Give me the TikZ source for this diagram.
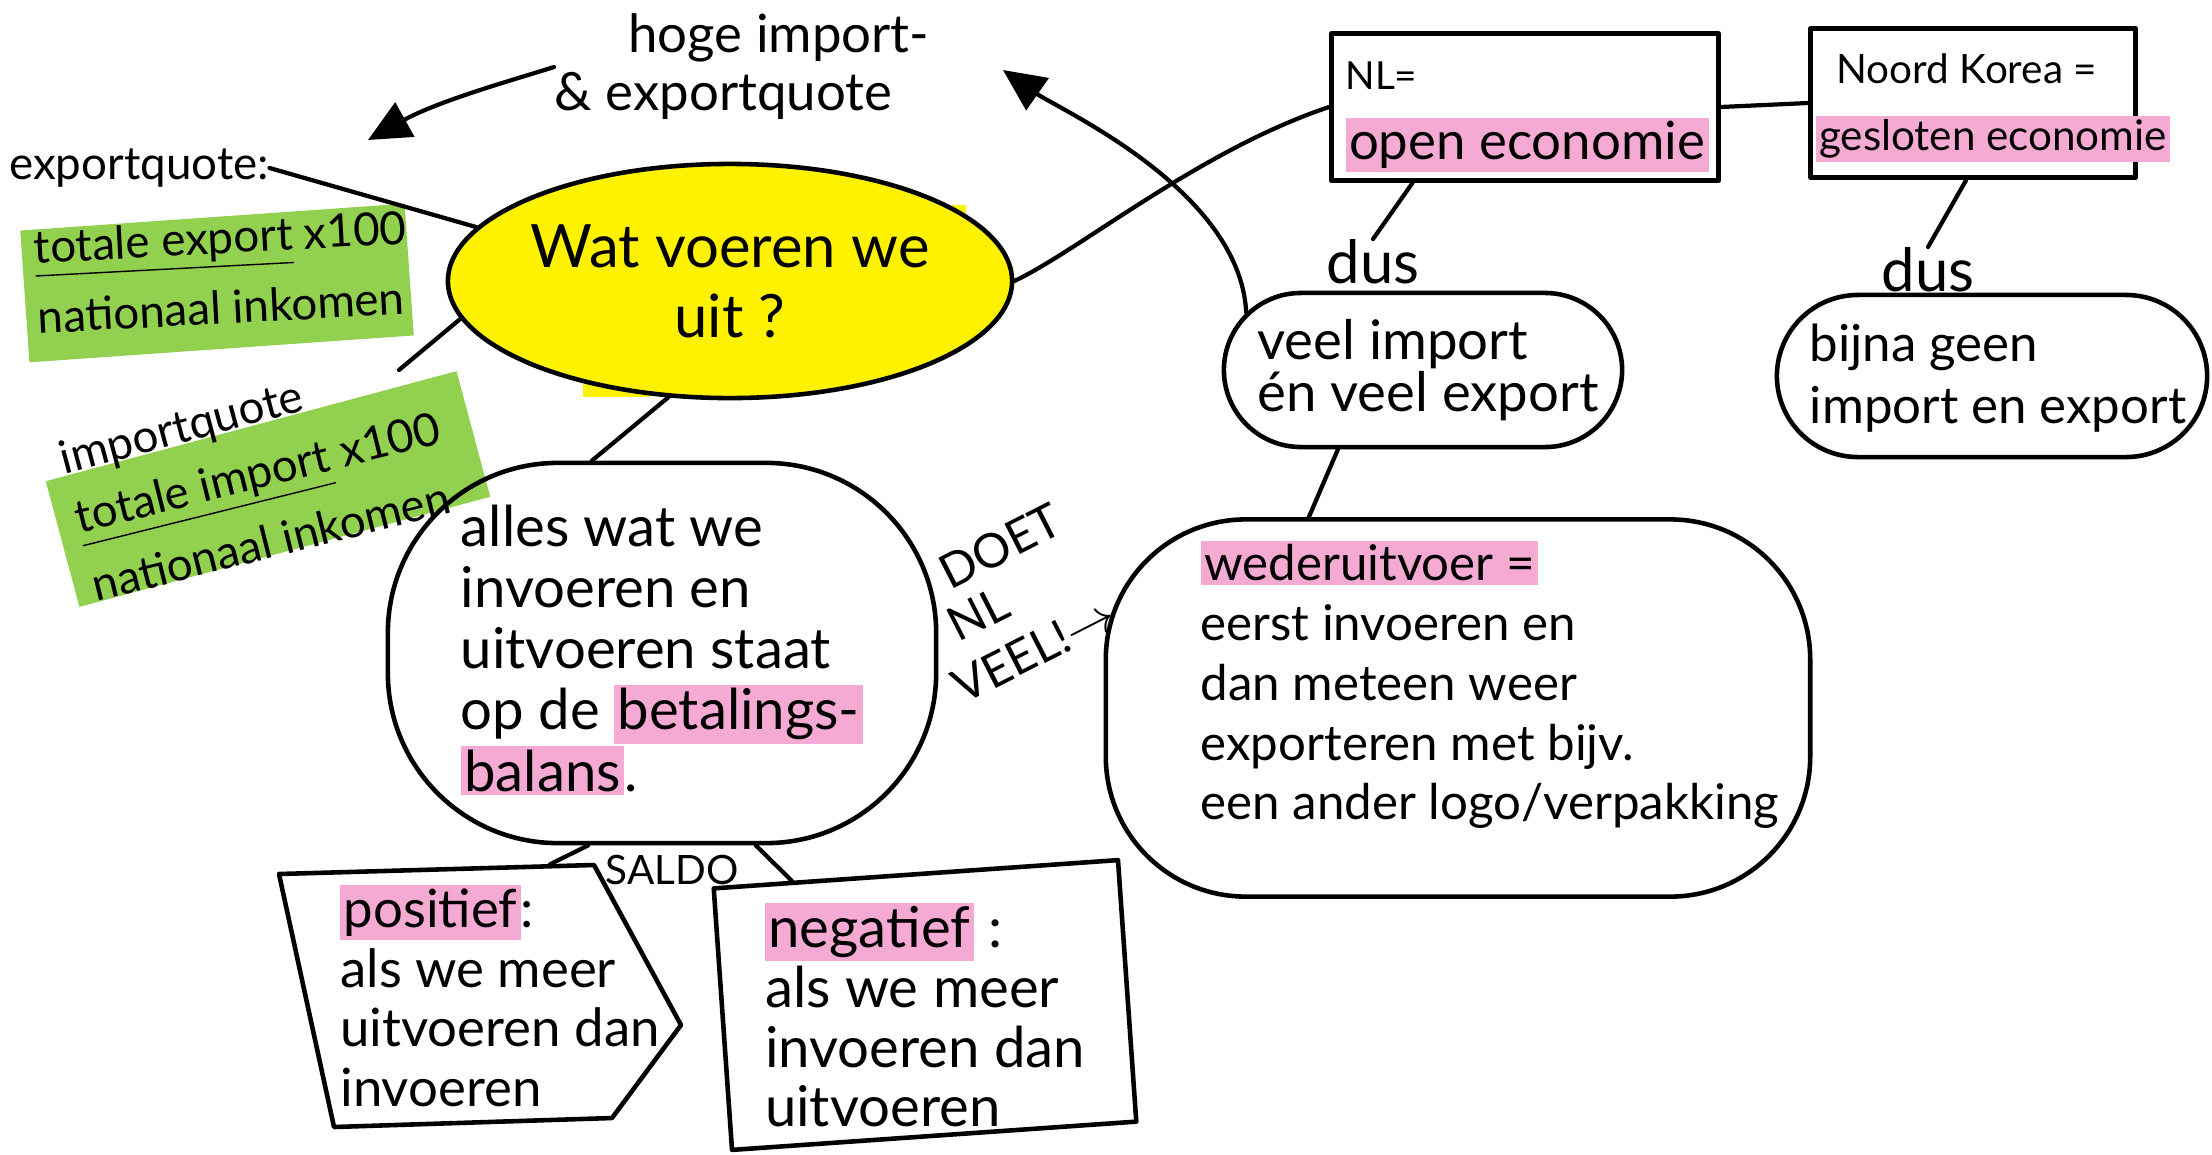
\documentclass[tikz,border=0pt]{standalone}
\usepackage{fontspec}
\setmainfont{Lato}
\usetikzlibrary{shapes.geometric,shapes.misc,arrows.meta}
\definecolor{hlyellow}{RGB}{255,242,0}
\definecolor{hlgreen}{RGB}{146,208,80}
\definecolor{hlpink}{RGB}{245,170,212}
\newcommand\pinkhl[1]{{\setlength{\fboxsep}{1pt}\colorbox{hlpink}{#1}}}
\newcommand\fs[2]{\fontsize{#1}{#2}\selectfont}
\tikzset{
  ink/.style={draw=black, line width=1.3pt, line cap=round, line join=round},
  conn/.style={draw=black, line width=1.2pt, line cap=round},
  arr/.style={conn, -{Triangle[length=12pt,width=11pt]}},
  shapebox/.style={ink, rectangle, inner sep=0pt},
  blob/.style={ink, rectangle, inner sep=0pt},
  txt/.style={inner sep=0pt, align=left},
  greenpatch/.style={fill=hlgreen, rectangle, inner sep=0pt},
}
\begin{document}
\begin{tikzpicture}[x=0.01cm,y=-0.01cm]
\useasboundingbox (0,0) rectangle (2212,1154);
\fill[white] (0,0) rectangle (2212,1154);

% green highlight patches
\node[greenpatch, rotate=4, minimum width=3.85cm, minimum height=1.32cm] (eqbox) at (217,283) {};
\node[greenpatch, rotate=15, minimum width=4.25cm, minimum height=1.3cm] (iqbox) at (268,489) {};

% yellow marker spill outside the ellipse
\fill[hlyellow] (583,340) rectangle (650,397);
\fill[hlyellow] (925,205) rectangle (966,232);

% central question
\node[ellipse, ink, fill=hlyellow, minimum width=5.04cm, minimum height=2.34cm, inner sep=0pt, align=center, font=\fs{17}{20}] (main) at (730,281) {Wat voeren we\\uit ?};

% hoge import- & exportquote
\node[txt, font=\fs{15}{16.5}] (hoge) at (742,67) {\hspace*{1.4em}hoge import-\\\& exportquote};
\coordinate (tip1) at (368,140);
\draw[arr] (hoge.west) .. controls (520,78) and (440,100) .. (tip1);

% exportquote
\node[txt, font=\fs{13}{15}] (eql) at (139,168) {exportquote:};
\draw[conn] (eql.east) -- (main.168);
\node[txt, rotate=3, font=\fs{13}{20}] (eqfrac) at (222,272) {\underline{totale export} x100\\nationaal inkomen};

% importquote
\node[txt, rotate=15, font=\fs{13}{15}] (iql) at (182,430) {importquote};
\coordinate (iqs) at (399,370);
\draw[conn] (iqs) -- (main.188);
\node[txt, rotate=14, font=\fs{13}{20}] (iqfrac) at (266,506) {\underline{totale import} x100\\nationaal inkomen};

% NL box
\node[shapebox, minimum width=3.87cm, minimum height=1.47cm] (nl) at (1525,107) {};
\node[txt, font=\fs{15}{20}] (nlt) at (1527,117) {{\fs{11}{13}NL=}\\\pinkhl{open economie}};

% Noord Korea box
\node[shapebox, minimum width=3.25cm, minimum height=1.49cm] (nk) at (1973,103) {};
\node[txt, font=\fs{12}{19}] (nkt) at (1993,108) {\hspace*{0.5em}{\fs{11.5}{19}Noord Korea =}\\\pinkhl{gesloten economie}};
\draw[conn] (nl.east) -- (nk.west);

% dus
\node[txt, font=\fs{17}{20}] (dus1) at (1373,262) {dus};
\draw[conn] (nl.214) -- (dus1.north);
\node[txt, font=\fs{17}{20}] (dus2) at (1928,270) {dus};
\draw[conn] (nk.265) -- (dus2.north);

% veel import / bijna geen
\node[rounded rectangle, ink, minimum width=3.98cm, minimum height=1.54cm, inner sep=0pt] (veel) at (1423,370) {};
\node[txt, font=\fs{15.5}{15}] (veelt) at (1428,370) {veel import\\én veel export};
\node[rounded rectangle, ink, minimum width=4.3cm, minimum height=1.62cm, inner sep=0pt] (bijna) at (1992,376) {};
\node[txt, font=\fs{14.5}{17.5}] (bijnat) at (1998,378) {bijna geen\\import en export};

% curved arrow up to 'hoge import'
\coordinate (tip2) at (1003,70);
\draw[arr] (veel.162) .. controls (1240,190) and (1060,110) .. (tip2);

% main -> NL
\draw[conn] (main.east) .. controls (1080,250) and (1200,150) .. (nl.west);

% wederuitvoer
\node[blob, rounded corners=1.4cm, minimum width=7.04cm, minimum height=3.77cm] (weder) at (1458,708) {};
\node[txt, font=\fs{14}{17}] (wedert) at (1490,685) {\pinkhl{wederuitvoer =}\\eerst invoeren en\\dan meteen weer\\exporteren met bijv.\\een ander logo/verpakking};
\draw[conn] (veel.223) -- (weder.128);

% DOET NL VEEL!
\node[txt, rotate=27, font=\fs{13.5}{16}] (doet1) at (1000,546) {DOET};
\node[txt, rotate=27, font=\fs{13.5}{16}] (doet2) at (978,614) {NL};
\node[txt, rotate=27, font=\fs{13.5}{16}] (doet3) at (1034,650) {VEEL!$\rightarrow$};

% betalingsbalans
\node[blob, rounded corners=1.7cm, minimum width=5.48cm, minimum height=3.8cm] (betal) at (662,653) {};
\node[txt, font=\fs{16}{17.4}] (betalt) at (662,650) {alles wat we\\invoeren en\\uitvoeren staat\\op de \pinkhl{betalings-}\\\pinkhl{balans}.};
\draw[conn] (main.242) -- (betal.110);

% saldo
\node[txt, font=\fs{11.5}{13}] (saldo) at (672,870) {SALDO};

% positief
\node[inner sep=0pt, minimum width=4.02cm, minimum height=2.62cm] (pos) at (480,996) {};
\draw[ink] (279,874) -- (594,865) -- (681,1025) -- (612,1118) -- (334,1127) -- cycle;
\node[txt, font=\fs{15}{17}] (post) at (500,996) {\pinkhl{positief}:\\als we meer\\uitvoeren dan\\invoeren};
\draw[conn] (betal.249) -- (pos.62);

% negatief
\node[shapebox, rotate=4, minimum width=4.05cm, minimum height=2.62cm] (neg) at (925,1005) {};
\node[txt, font=\fs{16}{17}] (negt) at (925,1015) {\pinkhl{negatief} :\\als we meer\\invoeren dan\\uitvoeren};
\draw[conn] (betal.296) -- (neg.133);
\end{tikzpicture}
\end{document}
